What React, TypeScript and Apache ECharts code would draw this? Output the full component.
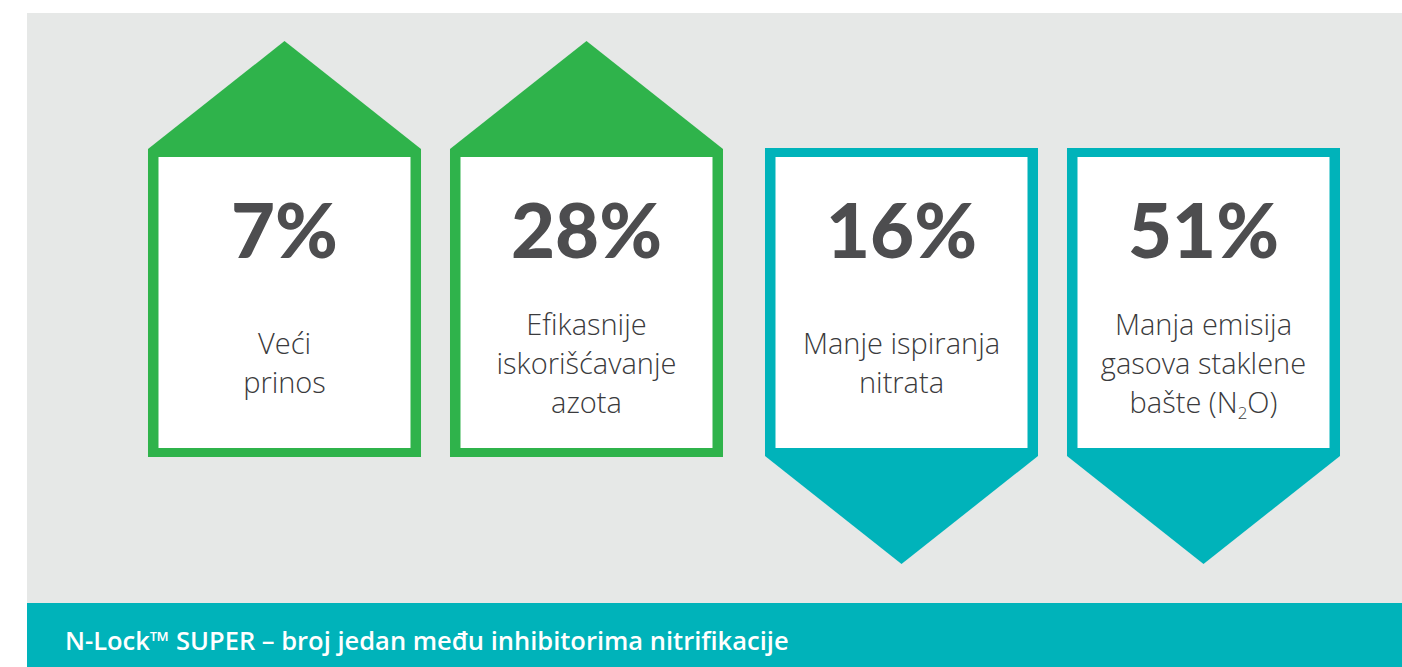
import React, { useEffect, useRef } from "react";
import * as echarts from "echarts";

// ---- data ----
const categories = ["yield", "nue", "leaching", "n2o"];
const values = [7, 28, 16, 51];
const directions = ["up", "up", "down", "down"];
const labels = [
  "Veći\nprinos",
  "Efikasnije\niskorišćavanje\nazota",
  "Manje ispiranja\nnitrata",
  "Manja emisija\ngasova staklene\nbašte (N{sub|2}O)",
];
const footerText = "N-Lock™ SUPER – broj jedan među inhibitorima nitrifikacije";

// ---- styles ----
const GREEN = "#2fb34b";
const TEAL = "#00b3ba";
const BG = "#e6e8e7";
const DARK = "#4d4d4f";
const LABEL = "#3a3a3c";
const GROUP_OFFSET = 6.5;

export default function App() {
  const ref = useRef<HTMLDivElement>(null);
  useEffect(() => {
    document.body.style.margin = "0";
    const chart = echarts.init(ref.current!, null, { renderer: "svg" });
    const option: any = {
      animation: false,
      graphic: [
        { type: "rect", z: -10, shape: { x: 27, y: 13, width: 1375, height: 590 }, style: { fill: BG } },
        { type: "rect", z: -10, shape: { x: 27, y: 603, width: 1375, height: 64 }, style: { fill: TEAL } },
        {
          type: "text",
          x: 65,
          y: 640,
          style: {
            text: footerText,
            fill: "#ffffff",
            font: "600 25.5px 'Open Sans', sans-serif",
            verticalAlign: "middle",
            align: "left",
          },
        },
      ],
      grid: { left: 140, width: 1208, top: 0, height: 667 },
      xAxis: { type: "category", data: categories, show: false },
      yAxis: { type: "value", min: 0, max: 100, show: false },
      series: [
        {
          type: "custom",
          data: values.map((v, i) => [i, v]),
          renderItem: (params: any, api: any) => {
            const i = api.value(0);
            const v = api.value(1);
            const up = directions[i] === "up";
            const cx = api.coord([i, 0])[0] + (up ? -GROUP_OFFSET : GROUP_OFFSET);
            const half = api.size([1, 0])[0] * 0.452;
            const L = cx - half;
            const R = cx + half;
            const color = up ? GREEN : TEAL;
            const pts = up
              ? [[cx, 41], [R, 149], [R, 457], [L, 457], [L, 149]]
              : [[L, 148], [R, 148], [R, 456], [cx, 564], [L, 456]];
            return {
              type: "group",
              children: [
                { type: "polygon", shape: { points: pts }, style: { fill: color } },
                {
                  type: "rect",
                  shape: { x: L + 10.5, y: 157, width: 2 * half - 21, height: 291 },
                  style: { fill: "#ffffff" },
                },
                {
                  type: "text",
                  style: {
                    text: v + "%",
                    x: cx,
                    y: 228,
                    align: "center",
                    verticalAlign: "middle",
                    font: "900 76px Lato, sans-serif",
                    fill: DARK,
                  },
                },
                {
                  type: "text",
                  style: {
                    text: labels[i],
                    x: cx,
                    y: 362,
                    align: "center",
                    verticalAlign: "middle",
                    fontSize: 29,
                    fontWeight: 300,
                    fontFamily: "'Open Sans', sans-serif",
                    lineHeight: 39,
                    fill: LABEL,
                    rich: {
                      sub: {
                        fontSize: 17,
                        fontWeight: 300,
                        fontFamily: "'Open Sans', sans-serif",
                        lineHeight: 17,
                        verticalAlign: "bottom",
                        fill: LABEL,
                      },
                    },
                  },
                },
              ],
            };
          },
        },
      ],
    };
    chart.setOption(option);
    return () => chart.dispose();
  }, []);
  return <div ref={ref} style={{ width: 1402, height: 667 }} />;
}
